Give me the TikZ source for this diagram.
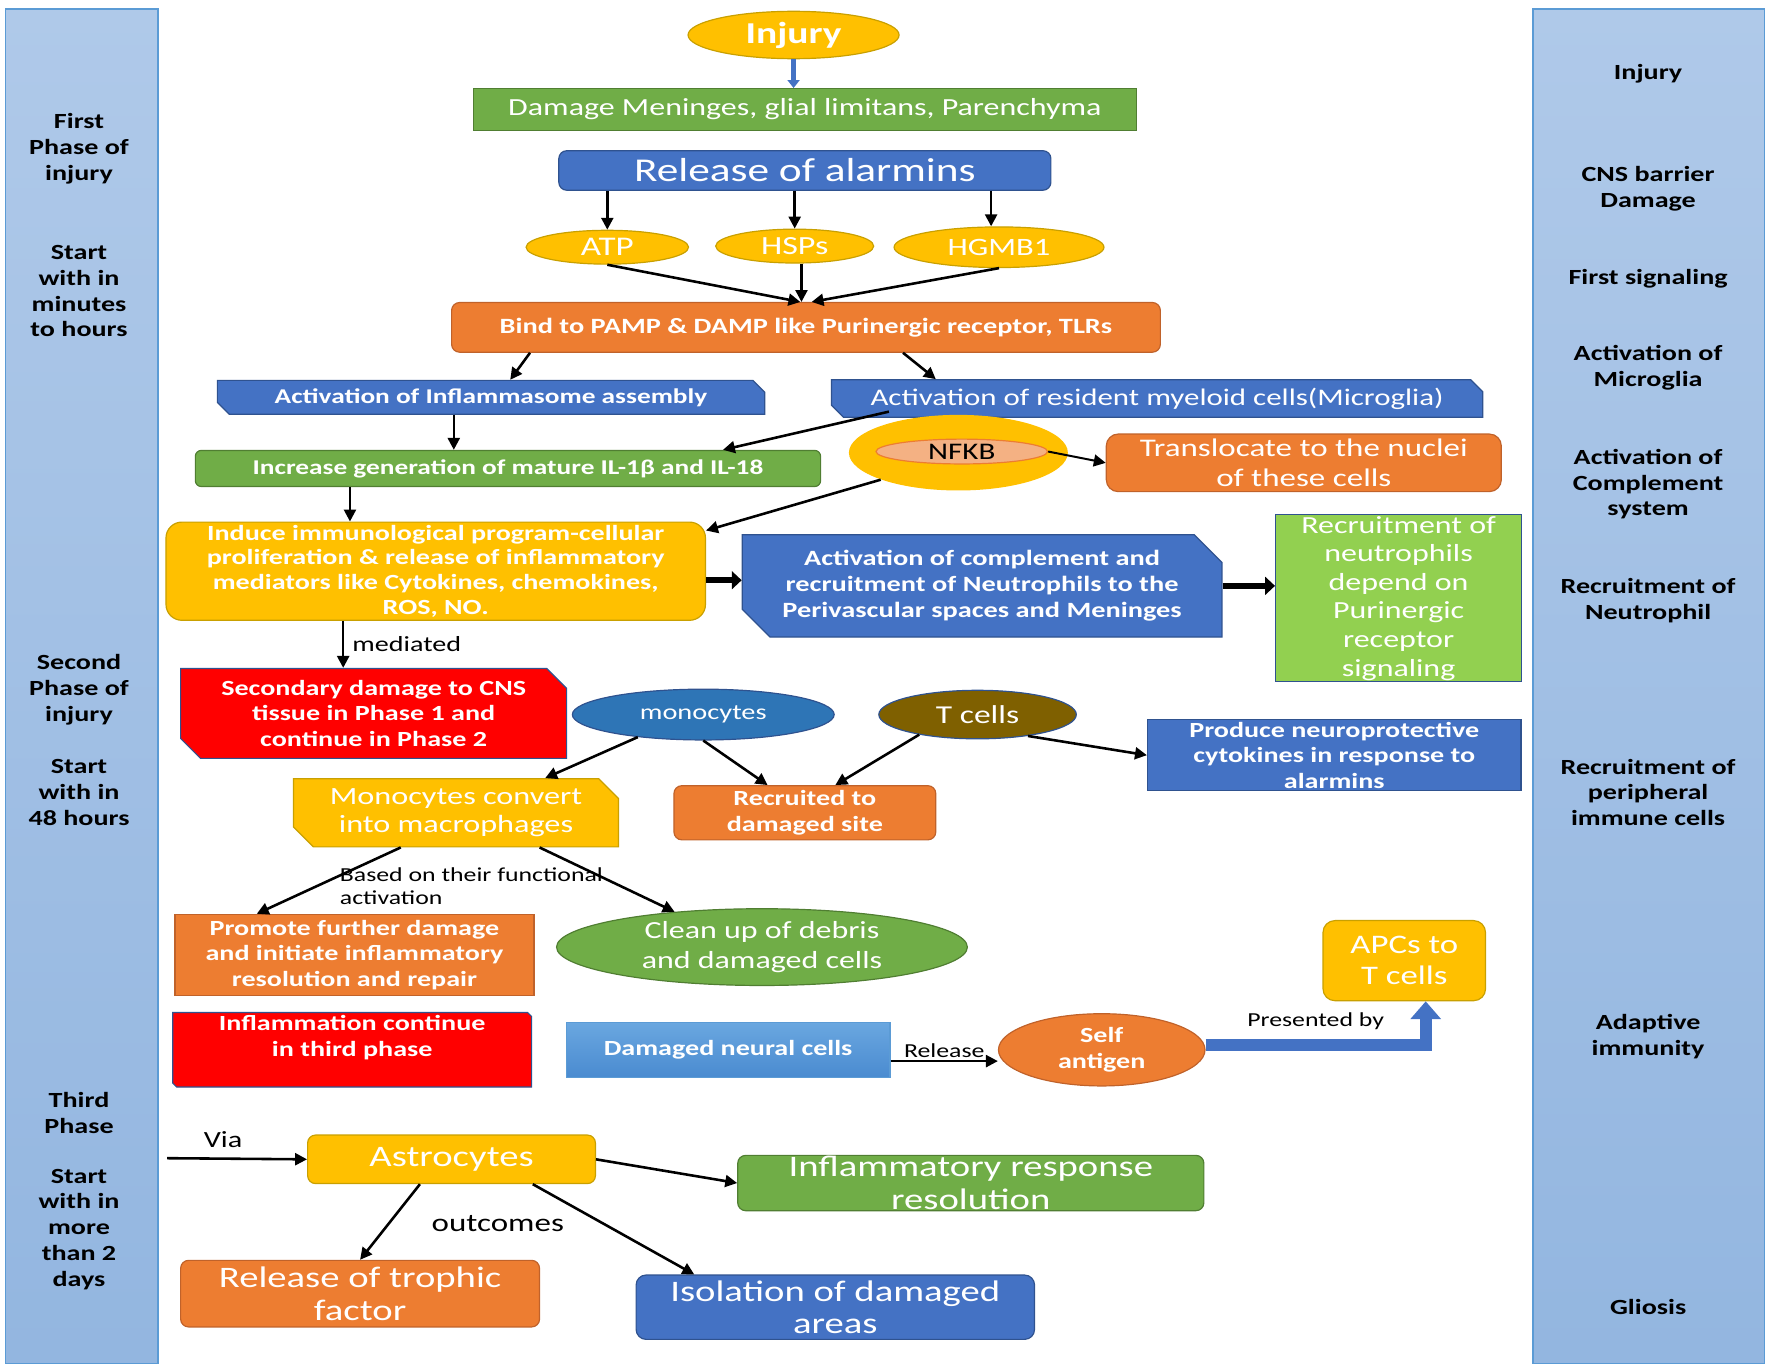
\documentclass[tikz,border=0pt]{standalone}
\usepackage{fontspec}
\setmainfont{Carlito}[FakeStretch=1.3]
\usetikzlibrary{arrows.meta,shapes.geometric,shapes.misc}

\definecolor{cyel}{HTML}{FFC000}
\definecolor{cyelb}{HTML}{C9A000}
\definecolor{cora}{HTML}{ED7D31}
\definecolor{corab}{HTML}{C0622A}
\definecolor{cblu}{HTML}{4472C4}
\definecolor{cblub}{HTML}{2F528F}
\definecolor{cgrn}{HTML}{70AD47}
\definecolor{cgrnb}{HTML}{507E32}
\definecolor{clgrn}{HTML}{92D050}
\definecolor{cred}{HTML}{FF0000}
\definecolor{cmono}{HTML}{2E75B6}
\definecolor{ctcell}{HTML}{7F6000}
\definecolor{csalm}{HTML}{F4B183}
\definecolor{cpanel}{HTML}{5B9BD5}
\definecolor{cpant}{HTML}{AFC9E9}
\definecolor{cpanb}{HTML}{93B6E0}
\definecolor{cneut}{HTML}{6AA7E0}
\definecolor{cneub}{HTML}{4A8BD0}

\tikzset{
  fb/.style={font=\fontsize{10.9}{12.8}\selectfont\bfseries},
  side/.style={font=\fontsize{10.9}{13}\selectfont\bfseries},
  lbl/.style={font=\fontsize{10}{11.4}\selectfont}
}

\begin{document}
\begin{tikzpicture}[x=0.02cm, y=-0.02cm,
  every node/.style={align=center, inner sep=1pt},
  box/.style={draw, line width=0.6pt, text=white},
  ybox/.style={box, fill=cyel, draw=cyelb, rounded corners=4pt},
  obox/.style={box, fill=cora, draw=corab, rounded corners=4pt},
  bbox/.style={box, fill=cblu, draw=cblub},
  gbox/.style={box, fill=cgrn, draw=cgrnb},
  snip/.style={chamfered rectangle, chamfered rectangle corners={north east, south west}, chamfered rectangle xsep=5pt, chamfered rectangle ysep=5pt},
  oval/.style={ellipse, draw, line width=0.6pt, text=white, inner sep=0pt},
  arr/.style={-{Triangle[length=6pt,width=6pt]}, line width=1.3pt},
  fat/.style={-{Triangle[length=5pt,width=9pt]}, line width=3pt},
  panel/.style={draw=cpanel, line width=0.8pt, top color=cpant, bottom color=cpanb}]

\useasboundingbox (0,0) rectangle (1568,1211);

\path[panel] (5,8) rectangle (140,1208);
\path[panel] (1358,8) rectangle (1563,1208);

\node[side] (ph1) at (70,132) {First\\Phase of\\injury};
\node[side] (st1) at (70,258) {Start\\with in\\minutes\\to hours};
\node[side] (ph2) at (70,611) {Second\\Phase of\\injury};
\node[side] (st2) at (70,702) {Start\\with in\\48 hours};
\node[side] (ph3) at (70,986) {Third\\Phase};
\node[side] (st3) at (70,1089) {Start\\with in\\more\\than 2\\days};

\node[side] (r1) at (1460,65) {Injury};
\node[side] (r2) at (1460,167) {CNS barrier\\Damage};
\node[side] (r3) at (1460,247) {First signaling};
\node[side] (r4) at (1460,326) {Activation of\\Microglia};
\node[side] (r5) at (1460,429) {Activation of\\Complement\\system};
\node[side] (r6) at (1460,532) {Recruitment of\\Neutrophil};
\node[side] (r7) at (1460,702) {Recruitment of\\peripheral\\immune cells};
\node[side] (r8) at (1460,918) {Adaptive\\immunity};
\node[side] (r9) at (1460,1158) {Gliosis};

\node[oval, fill=cyel, draw=cyelb, minimum width=3.74cm, minimum height=0.84cm, font=\fontsize{15.3}{17}\selectfont\bfseries] (injury) at (703,31) {Injury};
\node[gbox, minimum width=11.74cm, minimum height=0.74cm, font=\fontsize{12.4}{14}\selectfont] (damage) at (713,97) {Damage Meninges, glial limitans, Parenchyma};
\node[bbox, rounded corners=4pt, minimum width=8.72cm, minimum height=0.7cm, font=\fontsize{16.8}{18}\selectfont] (alarm) at (713,151) {Release of alarmins};
\node[oval, fill=cyel, draw=cyelb, minimum width=2.88cm, minimum height=0.6cm, font=\fontsize{13.6}{15}\selectfont] (atp) at (538,219) {ATP};
\node[oval, fill=cyel, draw=cyelb, minimum width=2.8cm, minimum height=0.6cm, font=\fontsize{13.2}{15}\selectfont] (hsp) at (704,218) {HSPs};
\node[oval, fill=cyel, draw=cyelb, minimum width=3.72cm, minimum height=0.72cm, font=\fontsize{12.6}{15}\selectfont] (hgmb) at (885,219) {HGMB1};
\node[obox, minimum width=12.56cm, minimum height=0.88cm, font=\fontsize{11}{13}\selectfont\bfseries] (bind) at (714,290) {Bind to PAMP \& DAMP like Purinergic receptor, TLRs};
\node[bbox, snip, chamfered rectangle xsep=3pt, chamfered rectangle ysep=3pt, minimum width=9.7cm, minimum height=0.54cm, font=\fontsize{10.6}{12}\selectfont\bfseries] (inflam) at (435,352) {Activation of Inflammasome assembly};
\node[bbox, snip, chamfered rectangle xsep=3pt, chamfered rectangle ysep=3pt, minimum width=11.54cm, minimum height=0.62cm, font=\fontsize{12}{13}\selectfont] (resident) at (1025,353) {Activation of resident myeloid cells(Microglia)};
\node[gbox, rounded corners=3pt, minimum width=11.08cm, minimum height=0.64cm, font=\fontsize{10.6}{12}\selectfont\bfseries] (increase) at (450,415) {Increase generation of mature IL-1β and IL-18};
\node[ellipse, fill=cyel, minimum width=3.88cm, minimum height=1.34cm] (nfkb) at (849,401) {};
\node[ellipse, fill=csalm, draw=cora, line width=0.6pt, minimum width=3.04cm, minimum height=0.44cm, inner sep=0pt, font=\fontsize{12}{13}\selectfont] (nfkbin) at (852,400) {NFKB};
\node[obox, rounded corners=6pt, minimum width=7cm, minimum height=1.02cm, inner sep=0pt, font=\fontsize{12.8}{14.8}\selectfont] (transl) at (1155,410) {Translocate to the nuclei\\of these cells};
\node[ybox, rounded corners=8pt, minimum width=9.56cm, minimum height=1.74cm, inner sep=0pt, font=\fontsize{10.9}{12.5}\selectfont\bfseries] (induce) at (386,506) {Induce immunological program-cellular\\proliferation \& release of inflammatory\\mediators like Cytokines, chemokines,\\ROS, NO.};
\node[bbox, snip, chamfered rectangle xsep=7pt, chamfered rectangle ysep=7pt, minimum width=8.5cm, minimum height=1.52cm, font=\fontsize{11}{13}\selectfont\bfseries] (compl) at (870,519) {Activation of complement and\\recruitment of Neutrophils to the\\Perivascular spaces and Meninges};
\node[box, fill=clgrn, draw=cblub, minimum width=4.36cm, minimum height=2.96cm, inner sep=0pt, font=\fontsize{12.4}{14.4}\selectfont] (neutro) at (1239,530) {Recruitment of\\neutrophils\\depend on\\Purinergic\\receptor\\signaling};
\node[box, snip, fill=cred, draw=cblub, minimum width=6.84cm, minimum height=1.42cm, fb] (second) at (331,632) {Secondary damage to CNS\\tissue in Phase 1 and\\continue in Phase 2};
\node[oval, fill=cmono, draw=cblub, minimum width=4.64cm, minimum height=0.9cm, font=\fontsize{11}{13}\selectfont] (mono) at (623,633) {monocytes};
\node[oval, fill=ctcell, draw=cblub, minimum width=3.5cm, minimum height=0.86cm, font=\fontsize{13}{15}\selectfont] (tcell) at (866,633) {T cells};
\node[bbox, minimum width=6.62cm, minimum height=1.26cm, inner sep=0pt, fb] (produce) at (1182,669) {Produce neuroprotective\\cytokines in response to\\alarmins};
\node[box, snip, fill=cyel, draw=cyelb, minimum width=5.76cm, minimum height=1.02cm, inner sep=0pt, font=\fontsize{12.5}{14.2}\selectfont] (convert) at (404,720) {Monocytes convert\\into macrophages};
\node[obox, minimum width=4.64cm, minimum height=0.96cm, fb] (recruit) at (713,720) {Recruited to\\damaged site};
\node[box, fill=cora, draw=corab, minimum width=6.36cm, minimum height=1.44cm, inner sep=0pt, fb] (promote) at (314,846) {Promote further damage\\and initiate inflammatory\\resolution and repair};
\node[oval, fill=cgrn, draw=cgrnb, minimum width=7.28cm, minimum height=1.36cm, font=\fontsize{12.4}{14.8}\selectfont] (clean) at (675,839) {Clean up of debris\\and damaged cells};
\node[box, snip, fill=cred, draw=cblub, minimum width=6.36cm, minimum height=1.32cm] (inflcont) at (312,930) {};
\node[text=white, fb] (inflconttxt) at (312,919) {Inflammation continue\\in third phase};
\node[box, draw=cpanel, top color=cneut, bottom color=cneub, minimum width=5.74cm, minimum height=0.98cm, fb] (neural) at (645,930) {Damaged neural cells};
\node[oval, fill=cora, draw=corab, minimum width=3.66cm, minimum height=1.28cm, fb] (selfag) at (976,930) {Self\\antigen};
\node[ybox, rounded corners=6pt, minimum width=2.88cm, minimum height=1.42cm, font=\fontsize{13.5}{15.5}\selectfont] (apc) at (1244,851) {APCs to\\T cells};
\node[ybox, minimum width=5.1cm, minimum height=0.86cm, font=\fontsize{15}{17}\selectfont] (astro) at (400,1027) {Astrocytes};
\node[gbox, rounded corners=4pt, minimum width=8.26cm, minimum height=0.98cm, inner sep=0pt, font=\fontsize{15}{16.5}\selectfont] (infresp) at (860,1048) {Inflammatory response\\resolution};
\node[obox, minimum width=6.36cm, minimum height=1.18cm, inner sep=0pt, font=\fontsize{15}{16.5}\selectfont] (trophic) at (319,1146) {Release of trophic\\factor};
\node[bbox, rounded corners=5pt, minimum width=7.06cm, minimum height=1.14cm, inner sep=0pt, font=\fontsize{15}{16.5}\selectfont] (isol) at (740,1158) {Isolation of damaged\\areas};

\node[lbl, anchor=west, align=left] (basedlbl) at (299,785) {Based on their functional\\activation};
\node[font=\fontsize{12.8}{14}\selectfont] (outlbl) at (441,1084) {outcomes};
\coordinate (via) at (148,1026);

\draw[cblu, line width=2.5pt, -{Triangle[length=4pt,width=6pt]}] (injury.south) -- (injury.south |- damage.north);
\draw[arr] (atp |- alarm.south) -- (atp.north);
\draw[arr] (hsp |- alarm.south) -- (hsp.north);
\draw[arr] ([xshift=-0.14cm]hgmb |- alarm.south) -- ([xshift=-0.14cm]hgmb.north);
\draw[arr] (atp.south) -- ([xshift=-0.1cm]bind.north);
\draw[arr] ([xshift=0.12cm]hsp.south) -- ([xshift=0.12cm]hsp.south |- bind.north);
\draw[arr] (hgmb.south) -- ([xshift=0.1cm]bind.north);
\draw[arr] ([xshift=1.4cm]bind.south west) -- ([xshift=0.34cm]inflam.north);
\draw[arr] ([xshift=1.72cm]bind.south) -- ([xshift=1.86cm]resident.north west);
\draw[arr] ([xshift=-0.66cm]inflam.south) -- ([xshift=-0.66cm]inflam.south |- increase.north);
\draw[arr] ([xshift=0.92cm]resident.south west) -- ([xshift=-1.74cm]increase.north east);
\draw[arr, line width=1pt] (nfkbin.east) -- (transl.west);
\draw[arr] ([xshift=-2.8cm]increase.south) -- ([xshift=-2.8cm]increase.south |- induce.north);
\draw[arr] (nfkb.south west) -- ([yshift=-0.16cm]induce.north east);
\draw[fat] ([yshift=-0.16cm]induce.east) -- ([yshift=-0.16cm]induce.east -| compl.west);
\draw[fat] (compl.east) -- (compl.east -| neutro.west);
\draw[arr] ([xshift=-1.64cm]induce.south) -- node[right=3pt, font=\fontsize{10.9}{12}\selectfont] {mediated} ([xshift=-1.64cm]induce.south |- second.north);
\draw[arr] (mono.199) -- ([xshift=1.58cm]convert.north);
\draw[arr] (mono.south) -- ([xshift=-0.66cm]recruit.north);
\draw[arr] (tcell.199) -- ([xshift=0.54cm]recruit.north);
\draw[arr] (tcell.337) -- (produce.west);
\draw[arr] ([xshift=-0.98cm]convert.south) -- ([xshift=1.46cm]promote.north west);
\draw[arr] ([xshift=1.48cm]convert.south) -- (clean.158);
\draw[arr] ([yshift=-0.2cm]neural.east) -- node[above, lbl] {Release} ([yshift=-0.2cm]neural.east -| selfag.west);
\draw[cblu, line width=6pt, -{Triangle[length=9pt,width=15pt]}] ([yshift=0.08cm]selfag.east) -| node[pos=0.25, above=4pt, lbl, text=black] {Presented by} ([xshift=0.38cm]apc.south);
\draw[arr] (via) -- node[above=4pt, pos=0.4, font=\fontsize{11.7}{13}\selectfont] {Via} (astro.west);
\draw[arr] (astro.east) -- (infresp.west);
\draw[arr] ([xshift=-0.56cm]astro.south) -- (trophic.north);
\draw[arr] ([xshift=1.44cm]astro.south) -- ([xshift=-2.5cm]isol.north);
\end{tikzpicture}
\end{document}
